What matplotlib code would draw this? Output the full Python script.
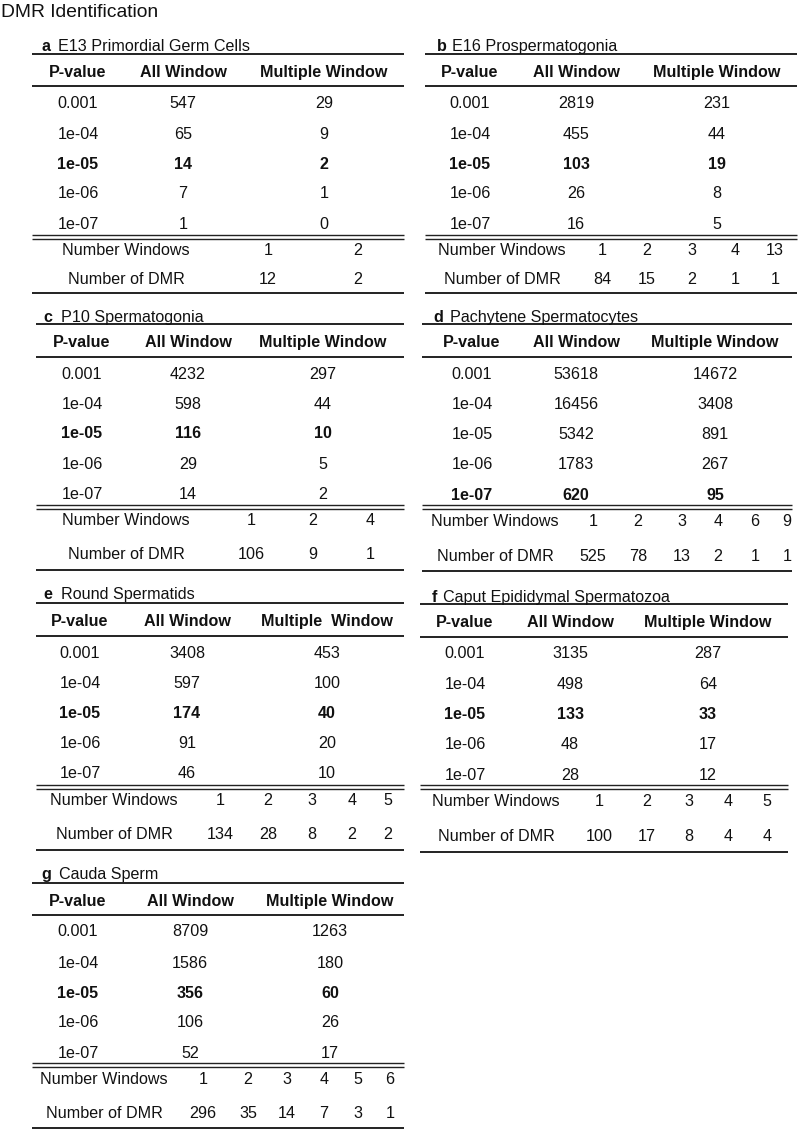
import matplotlib
matplotlib.use("Agg")
import matplotlib.pyplot as plt

plt.rcParams['font.family'] = ['Liberation Sans', 'DejaVu Sans']

# ---------------- data ----------------
pvalues = ["0.001", "1e-04", "1e-05", "1e-06", "1e-07"]

a_title = "E13 Primordial Germ Cells"
a_all = [547, 65, 14, 7, 1]
a_mult = [29, 9, 2, 1, 0]
a_nwin = [1, 2]
a_ndmr = [12, 2]

b_title = "E16 Prospermatogonia"
b_all = [2819, 455, 103, 26, 16]
b_mult = [231, 44, 19, 8, 5]
b_nwin = [1, 2, 3, 4, 13]
b_ndmr = [84, 15, 2, 1, 1]

c_title = "P10 Spermatogonia"
c_all = [4232, 598, 116, 29, 14]
c_mult = [297, 44, 10, 5, 2]
c_nwin = [1, 2, 4]
c_ndmr = [106, 9, 1]

d_title = "Pachytene Spermatocytes"
d_all = [53618, 16456, 5342, 1783, 620]
d_mult = [14672, 3408, 891, 267, 95]
d_nwin = [1, 2, 3, 4, 6, 9]
d_ndmr = [525, 78, 13, 2, 1, 1]

e_title = "Round Spermatids"
e_all = [3408, 597, 174, 91, 46]
e_mult = [453, 100, 40, 20, 10]
e_nwin = [1, 2, 3, 4, 5]
e_ndmr = [134, 28, 8, 2, 2]

f_title = "Caput Epididymal Spermatozoa"
f_all = [3135, 498, 133, 48, 28]
f_mult = [287, 64, 33, 17, 12]
f_nwin = [1, 2, 3, 4, 5]
f_ndmr = [100, 17, 8, 4, 4]

g_title = "Cauda Sperm"
g_all = [8709, 1586, 356, 106, 52]
g_mult = [1263, 180, 60, 26, 17]
g_nwin = [1, 2, 3, 4, 5, 6]
g_ndmr = [296, 35, 14, 7, 3, 1]

# ---------------- layout ----------------
FS = 11.6
TXT = '#111111'
LINE = '#222222'

fig = plt.figure(figsize=(8.0, 11.31), dpi=100)
ax = fig.add_axes([0, 0, 1, 1])
ax.set_xlim(0, 800)
ax.set_ylim(1131, 0)
ax.axis('off')

ax.text(1, 17, "DMR Identification", fontsize=13.9, color=TXT, va='baseline', ha='left')

BOFF = 5.8  # center -> baseline offset


def draw_panel(letter, title, allw, multw, nwin, ndmr, bold_row, L, Y,
               mult_header="Multiple Window"):
    xl, xr = L['xl'], L['xr']
    # title
    ax.text(L['tx'], Y['title'] + BOFF, letter, fontsize=FS, fontweight='bold',
            color=TXT, va='baseline', ha='left')
    ax.text(L['ttx'], Y['title'] + BOFF, title, fontsize=FS, color=TXT,
            va='baseline', ha='left')
    # lines
    for yy in (Y['top'], Y['hline']):
        ax.plot([xl, xr], [yy, yy], color=LINE, lw=1.4, solid_capstyle='butt')
    ax.plot([xl, xr], [Y['dbl'] - 1.7, Y['dbl'] - 1.7], color=LINE, lw=1.0, solid_capstyle='butt')
    ax.plot([xl, xr], [Y['dbl'] + 1.7, Y['dbl'] + 1.7], color=LINE, lw=1.0, solid_capstyle='butt')
    ax.plot([xl, xr], [Y['bottom'], Y['bottom']], color=LINE, lw=1.4, solid_capstyle='butt')
    # header
    for x, s in ((L['pv'], "P-value"), (L['all'], "All Window"), (L['mult'], mult_header)):
        ax.text(x, Y['header'] + BOFF, s, fontsize=FS, fontweight='bold', color=TXT,
                ha='center', va='baseline')
    # rows
    for i, (pv, a, m) in enumerate(zip(pvalues, allw, multw)):
        yb = Y['rows'][i] + BOFF
        fw = 'bold' if i == bold_row else 'normal'
        ax.text(L['pv'], yb, pv, fontsize=FS, fontweight=fw, color=TXT, ha='center', va='baseline')
        ax.text(L['all'], yb, str(a), fontsize=FS, fontweight=fw, color=TXT, ha='center', va='baseline')
        ax.text(L['mult'], yb, str(m), fontsize=FS, fontweight=fw, color=TXT, ha='center', va='baseline')
    # window counts
    ax.text(L['lab'], Y['nw'] + BOFF, "Number Windows", fontsize=FS, color=TXT, ha='center', va='baseline')
    ax.text(L['lab'], Y['nd'] + BOFF, "Number of DMR", fontsize=FS, color=TXT, ha='center', va='baseline')
    for x, w, d in zip(L['wins'], nwin, ndmr):
        ax.text(x, Y['nw'] + BOFF, str(w), fontsize=FS, color=TXT, ha='center', va='baseline')
        ax.text(x, Y['nd'] + BOFF, str(d), fontsize=FS, color=TXT, ha='center', va='baseline')


Ya = dict(title=45, top=54, header=71, hline=86, rows=[102, 133, 163, 192, 223],
          dbl=237, nw=249, nd=278, bottom=293)
Yc = dict(title=316, top=324, header=341, hline=357, rows=[373, 403, 432, 463, 493],
          dbl=507, nw=519, nd=553, bottom=570)
Yd = dict(title=316, top=324, header=341, hline=357, rows=[373, 403, 433, 463, 494],
          dbl=507, nw=520, nd=555, bottom=571)
Ye = dict(title=593, top=603, header=620, hline=636, rows=[652, 682, 712, 742, 772],
          dbl=787, nw=799, nd=833, bottom=850)
Yf = dict(title=596, top=604, header=621, hline=637, rows=[652, 683, 713, 743, 774],
          dbl=787, nw=800, nd=835, bottom=852)
Yg = dict(title=873, top=883, header=900, hline=915, rows=[930, 962, 992, 1021, 1052],
          dbl=1065, nw=1078, nd=1112, bottom=1128)

La = dict(xl=32, xr=404, tx=41, ttx=58, pv=78, all=183, mult=324, lab=126, wins=[268, 358])
Lb = dict(xl=425, xr=797, tx=437, ttx=452, pv=470, all=576, mult=717, lab=502,
          wins=[602, 647, 692, 735, 775])
Lc = dict(xl=36, xr=404, tx=43, ttx=61, pv=82, all=188, mult=323, lab=126, wins=[251, 313, 370])
Ld = dict(xl=422, xr=792, tx=433, ttx=450, pv=472, all=576, mult=715, lab=495,
          wins=[593, 638, 682, 718, 755, 787])
Le = dict(xl=36, xr=404, tx=43, ttx=61, pv=80, all=187, mult=327, lab=114,
          wins=[220, 268, 312, 352, 388])
Lf = dict(xl=420, xr=788, tx=432, ttx=443, pv=465, all=570, mult=708, lab=496,
          wins=[599, 647, 689, 728, 767])
Lg = dict(xl=32, xr=404, tx=41, ttx=59, pv=78, all=190, mult=330, lab=104,
          wins=[203, 248, 287, 324, 358, 390])

draw_panel('a', a_title, a_all, a_mult, a_nwin, a_ndmr, 2, La, Ya)
draw_panel('b', b_title, b_all, b_mult, b_nwin, b_ndmr, 2, Lb, Ya)
draw_panel('c', c_title, c_all, c_mult, c_nwin, c_ndmr, 2, Lc, Yc)
draw_panel('d', d_title, d_all, d_mult, d_nwin, d_ndmr, 4, Ld, Yd)
draw_panel('e', e_title, e_all, e_mult, e_nwin, e_ndmr, 2, Le, Ye, mult_header="Multiple  Window")
draw_panel('f', f_title, f_all, f_mult, f_nwin, f_ndmr, 2, Lf, Yf)
draw_panel('g', g_title, g_all, g_mult, g_nwin, g_ndmr, 2, Lg, Yg)

fig.savefig("out.png", dpi=100, facecolor='white')
